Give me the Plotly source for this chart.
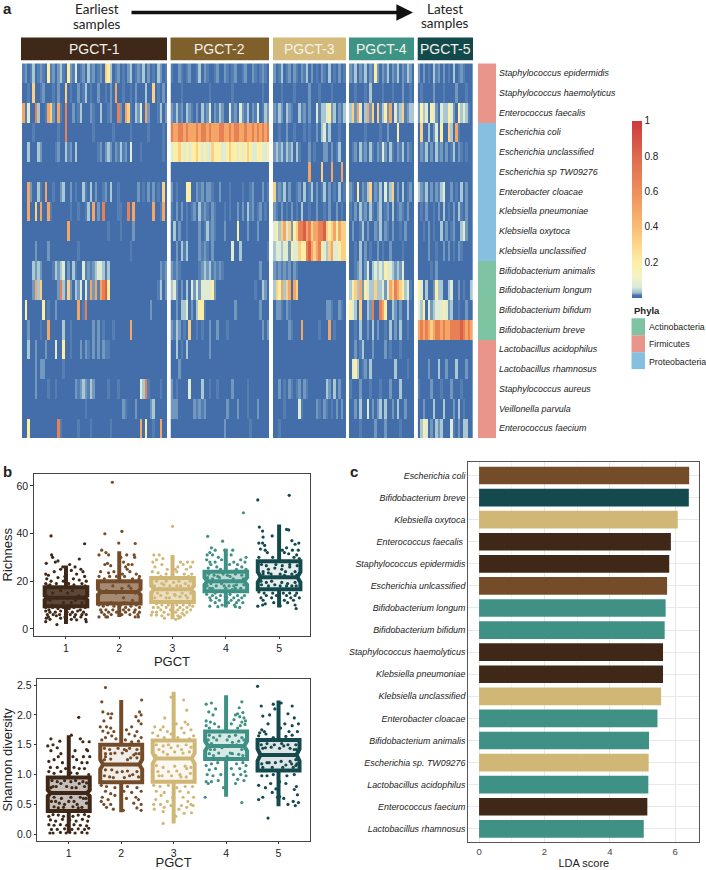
import plotly.graph_objects as go

W, H = 706, 870

# ---------------- heatmap data: one digit per sample column
SPECIES = ["Staphylococcus epidermidis", "Staphylococcus haemolyticus", "Enterococcus faecalis",
           "Escherichia coli", "Escherichia unclassified", "Escherichia sp TW09276",
           "Enterobacter cloacae", "Klebsiella pneumoniae", "Klebsiella oxytoca",
           "Klebsiella unclassified", "Bifidobacterium animalis", "Bifidobacterium longum",
           "Bifidobacterium bifidum", "Bifidobacterium breve", "Lactobacillus acidophilus",
           "Lactobacillus rhamnosus", "Staphylococcus aureus", "Veillonella parvula",
           "Enterococcus faecium"]
LEVELS = [0.005, 0.017, 0.022, 0.036, 0.075, 0.2, 0.33, 0.5, 0.68, 0.85]
GROUP_COLS = [58, 39, 29, 26, 22]
PGCT_1 = [
 "1201301210512023105214012031201206530120102301213020103201",
 "0010600120001020060100201301002001020700100102000300601020",
 "7140083001762071080020130002100300120082076103240720001302",
 "0000100000000010080000000000100000001000000100000010000010",
 "0030003200000120031203000000001202320213120400010000000010",
 "0000000000000000000000000000000000000000000000000000000000",
 "0072003107001002300201003103020012030010000000201020201060",
 "0070060700710000000100100130702080000011008070000000700170",
 "0000000000000000007000000000000000100001000020000000000000",
 "0000020000200000000000100000000000000000000100000000000000",
 "0000323200001323402031004121234431300000000000000000000212",
 "0000273600000028316203240417271789500000000000000000001302",
 "0500000050100200000000701800000000000000000000000002000000",
 "0020000100700000300100000000202010001000000700000000000000",
 "0030020002000400500100020210202021100000000000000000000000",
 "0000020220000000100000000000000000000000000000000000000000",
 "0000020000100100000002123213200000100010000000043810000100",
 "0000000000000000000000000100000000000000210002000002300000",
 "0050000000000081000000100001000000010000000000070500100700",
]
PGCT_2 = [
 "100210120013021001200210120012002101210",
 "000010000000000100000000100000000000100",
 "213120321020312402132004120421302140132",
 "877887877787887877788778788778778787878",
 "455654545565454465554456554545654455445",
 "000000000000000000000000000000000000000",
 "201000550021202210020001000010012000201",
 "102020101203121021000101002020312012010",
 "030200100002013121000200005000200020000",
 "002031300002121020000000400300000000001",
 "212100000001232312121000000000000002000",
 "342020304242444452000000000000000100320",
 "002033402035510000000000020000000002000",
 "213201060010100200200010000000000000202",
 "003010300000000200000000000000000000000",
 "000200000000000000000000000000000000000",
 "201000040000300100100000200000100000000",
 "222000000212120000000020002000100020000",
 "000000000000000000000200000000010000000",
]
PGCT_3 = [
 "20130120210213020102103010201",
 "00010000100000200010000100000",
 "21320321003120200413345230213",
 "00100200100010100203413000100",
 "23231323031000201000220201300",
 "00000000000000700006000700070",
 "61213020012030130201302010301",
 "21020102010300100200102002010",
 "45367462568897867788965675766",
 "34434425446558976785436744566",
 "21212120210000000000000000000",
 "36573670760000000000000000000",
 "02210210000000000000022100210",
 "00000021000700000010007010000",
 "00000000000000000000000000000",
 "00000000000000000000000000000",
 "00201021012021000000032030200",
 "00001000004100000210210102020",
 "00100000000000000000000000000",
]
PGCT_4 = [
 "21302130215202130213021320",
 "00100010300001000100020010",
 "36274037260613527042361233",
 "00000010000010020005000000",
 "01203120310214203102130210",
 "00000000000000000000000000",
 "21050213602130413602030120",
 "10203120310230120301210200",
 "02001302002130210200102000",
 "00103020100201002000010000",
 "00123024034343544323240000",
 "35637254336334247687653410",
 "54306003280087500320200300",
 "00103002030200103020300100",
 "00201300020000201000100000",
 "04530120300000000030000100",
 "10002000100010002000300000",
 "00203004020230300203002000",
 "00001000002000200000100000",
]
PGCT_5 = [
 "2020103120201030121000",
 "0100002000100002000100",
 "2534054204335420534310",
 "0600302405006307100000",
 "0213020312020130210100",
 "0000000000000000000000",
 "3213020213400201030200",
 "0102001020301020310200",
 "0010201003020120034200",
 "0000200100202010210000",
 "0000010200000000000000",
 "5403002533003400201003",
 "4350423444542300100200",
 "7878767887877888898787",
 "0000000000000000000000",
 "0000200030020003000200",
 "1000020001000200010000",
 "0020003000300020301000",
 "0354020323000410203300",
]
GROUP_ROWS = [PGCT_1, PGCT_2, PGCT_3, PGCT_4, PGCT_5]
GROUP_NAMES = ["PGCT-1", "PGCT-2", "PGCT-3", "PGCT-4", "PGCT-5"]
PHYLA_NAMES = ["Actinobacteria", "Firmicutes", "Proteobacteria"]
ROW_PHYLUM = [1, 1, 1, 2, 2, 2, 2, 2, 2, 2, 0, 0, 0, 0, 1, 1, 1, 1, 1]
CBAR_TICKS = [0.2, 0.4, 0.6, 0.8, 1]

# ---------------- panel b data
BOX_POS = [1, 2, 3, 4, 5]
RICH_Q1 = [9.5, 10.6, 11.3, 15.8, 16.6]
RICH_MED = [13, 15.5, 16.6, 20, 21.7]
RICH_Q3 = [17.5, 20, 21.3, 24, 28.4]
RICH_LO = [2, 5, 4, 9, 9]
RICH_HI = [26.6, 32.6, 31, 33.6, 43.8]
RICH_NOTCH = [0.9, 1.2, 1.4, 1.5, 2.2]
SHAN_Q1 = [0.39, 0.87, 0.88, 1.26, 1.07]
SHAN_MED = [0.69, 1.17, 1.27, 1.48, 1.33]
SHAN_Q3 = [0.95, 1.5, 1.57, 1.72, 1.58]
SHAN_LO = [0.02, 0.37, 0.18, 0.63, 0.47]
SHAN_HI = [1.66, 2.25, 2.39, 2.33, 2.24]
SHAN_NOTCH = [0.05, 0.08, 0.09, 0.08, 0.1]

# (horizontal jitter, value)
RICH_1 = [(-.28,39),(.35,35.7),(-.27,31),(-.25,30),(-.37,27.5),(-.2,28),(-.15,28.5),(.25,29.3),(.07,27),(-.06,26),(.17,26),(.28,25),(.32,24),
 (-.38,23),(-.33,22.5),(-.22,24),(-.1,25),(.1,24.5),(.2,23),(.35,22),(-.36,21),(-.28,20),(-.15,21.5),(-.02,22),(.14,21),(.25,20.5),(.38,20),
 (-.38,19),(-.3,18.5),(-.18,19),(-.05,20),(.05,19),(.15,18.5),(.3,19),(-.34,18),(.36,18),(-.25,15),(-.1,16),(.03,15),(.12,16),(.24,14),
 (-.16,13),(.05,13),(.18,12),(-.3,12),(-.05,11),(.1,11),(.3,11),(-.38,9),(-.32,8),(-.25,9),(-.15,8.5),(-.05,9),(.06,8.5),(.15,9),(.27,8),(.36,9),
 (-.38,7.5),(-.3,7),(-.2,7),(-.1,7.5),(.02,7),(.12,7),(.22,7.5),(.33,7),(-.35,6),(-.24,6),(-.12,6),(.08,6),(.18,6),(.3,6),(.38,6),(-.33,5),
 (-.18,5.5),(-.02,5),(.16,5),(.28,5),(-.37,4.5),(-.3,4),(-.1,4.5),(.37,4),(-.38,3),(.38,3),(-.17,1.8),(.1,4),(.2,3.8),(-.27,10),(.34,13),(-.37,14)]
RICH_2 = [(-.13,61.5),(-.27,39.9),(.05,40.9),(.3,35.8),(-.01,36),(-.33,33),(-.38,31),(-.25,32),(-.2,31),(.14,31),(.28,31),(.29,30),(.03,30),
 (-.27,27),(-.16,26.5),(-.22,27.5),(.08,28),(.17,27),(.12,26),(.24,27),(-.35,24),(-.1,24),(.06,23),(.2,24),(.32,23),(.38,22),(-.38,22),(-.28,21),
 (-.18,22),(-.05,22),(.1,22),(.25,21),(.37,21),(-.2,23.5),(.15,25),(-.12,18),(.05,17),(.18,18),(-.24,16),(.08,13),(-.06,15),(.22,17),(.3,15),
 (-.15,11),(.1,11),(.25,12),(-.38,10),(-.3,9.5),(-.22,10),(-.1,9.5),(.03,10),(.12,9),(.22,9.5),(.32,10),(.38,9),(-.35,8),(-.25,8),(-.12,8),(.08,8),
 (.18,8),(.3,8),(.38,7),(-.33,7),(-.2,7),(-.05,7),(.12,7),(.28,7),(-.28,6),(-.15,6),(.05,6),(.2,6),(.35,6),(-.38,5),(-.25,5),(-.22,5),(.3,5),(.36,5)]
RICH_3 = [(0,43),(-.35,31),(-.25,31),(-.3,29),(-.37,28),(-.18,29.5),(.15,28),(.38,28),(.1,26),(.2,27),(.28,28),(-.2,27),(-.33,26),(.05,25),(-.1,25),
 (.26,25),(.34,26),(-.38,24),(-.27,23.5),(-.12,23),(.08,24),(.22,23),(.36,23),(-.22,22),(.3,22),(-.05,18),(.15,18),(-.25,17),(.05,14),(-.12,13),(.25,14),
 (-.3,10.5),(-.2,10),(-.08,10),(.08,10),(.2,10),(.32,10),(.38,9.5),(-.36,9),(-.27,9),(-.12,9),(.14,9),(.27,9),(-.22,8),(-.04,8),(.1,8),(.2,8),(.34,8),
 (-.38,7),(-.3,7),(-.16,7),(.06,7),(.18,6.5),(.27,7),(-.4,5.8),(-.3,5.8),(-.2,5.5),(-.08,6),(.1,5.5),(.22,5.8),(.12,4.5),(-.15,4.5),(.06,4),(.15,5),
 (-.3,20),(-.2,19),(-.12,20),(.02,19.5),(.12,20),(.24,19),(.33,20),(-.34,18),(-.16,18.5),(.08,18),(.3,18),(-.28,15),(-.1,15),(.18,15),(.34,15),(-.22,14),(.04,14.5),(.14,13.5),(.28,13),(-.33,13),(-.06,13)]
RICH_4 = [(.33,48.7),(-.34,38.8),(-.06,36.8),(-.27,34),(-.2,33),(-.3,32),(-.02,33),(.13,33),(-.35,31),(-.25,31),(-.14,30),(.1,31),(.38,30),(.28,29),
 (-.3,28),(-.36,29),(-.2,28),(-.08,29),(.15,28),(.22,27),(.36,28),(-.28,27),(-.17,26),(.07,27),(.3,26),(-.33,25.5),(-.1,25),(.2,25),(.38,25),
 (-.15,22),(.08,22),(-.25,21),(.25,20),(-.03,18),(.15,18),(-.3,17),(.12,16.5),(-.2,15),(-.36,14.5),(-.25,14),(-.1,14),(.08,14.5),(.22,14),(.35,14),
 (-.3,13),(-.18,13),(.02,13),(.15,13),(.3,13),(-.28,12),(-.12,12),(.1,12),(.24,12),(-.2,11),(.05,11),(.2,11),(.32,11),(-.07,10),(.16,10),(-.3,9.5),(-.15,9.3),(.18,9.3),(.26,9),
 (-.32,23),(-.22,22.5),(-.05,23),(.03,22.5),(.18,23),(.3,22.5),(-.34,21.5),(-.12,21.5),(.14,21),(.33,21),(-.28,19),(-.08,19),(.2,18.5),(.34,18.5),(-.35,18),(-.18,18),(.06,18),(.28,17),(-.25,17),(.0,17),(.18,17)]
RICH_5 = [(-.4,54.1),(.19,56),(-.37,42.7),(.14,41.7),(.18,41.5),(-.31,41),(-.3,38.5),(.0,37),(.24,37),(-.13,39),(-.38,36),(-.31,36),(-.27,35),(.3,35.5),(.37,36),
 (-.35,33.5),(-.26,33),(.06,33),(.14,34),(.25,33),(.36,33),(-.22,32),(.1,32),(.18,31.5),(.33,31),(-.38,30),(-.12,30),(.28,30),(.38,29.5),(-.2,25),(.05,25),
 (.2,26),(-.08,25.5),(-.3,24),(.12,24),(.3,24),(-.15,23),(.24,18),(-.2,18),(.02,18),(-.28,15),(-.38,15.5),(-.12,15),(.08,15),(.2,15),(.33,15),(-.24,14),
 (-.05,14),(.14,14),(.3,14),(-.34,13),(-.14,13),(.22,13),(.38,13),(-.3,12),(.1,12),(.27,12),(-.26,10.5),(-.1,11),(.16,11),(.3,10),(-.4,9.5),(-.31,10),(.02,9.7),(.32,8.5),
 (-.33,27),(-.24,26.5),(-.06,27),(.06,26.5),(.2,27),(.34,26.5),(-.3,23),(-.2,23.5),(.02,23),(.1,22.5),(.24,23),(.33,22.5),(-.34,20),(-.24,19.5),(-.14,20),(.05,19.5),(.16,19),(.3,19.5),(-.33,18.5),(-.08,18.5),(.14,18),(.32,18)]
SHAN_1 = [(.19,1.96),(-.34,1.6),(-.17,1.56),(.05,1.66),(.22,1.6),(.39,1.55),(-.4,1.48),(-.3,1.5),(-.22,1.45),(.27,1.55),(.34,1.42),(-.34,1.4),(-.15,1.35),
 (.12,1.4),(.36,1.4),(-.2,1.3),(.08,1.3),(.28,1.3),(.4,1.3),(-.38,1.22),(-.28,1.25),(-.12,1.2),(.15,1.25),(.25,1.2),(.35,1.2),(-.35,1.12),(-.22,1.12),(-.06,1.1),(.1,1.12),
 (.2,1.1),(.3,1.1),(-.38,1.05),(-.28,1.02),(-.15,1.05),(.04,1.03),(.16,1.02),(.38,1.0),(-.3,.8),(-.15,.85),(.06,.78),(.2,.85),(-.25,.55),(-.08,.5),(.1,.55),(.28,.6),
 (-.38,.3),(-.3,.33),(-.2,.32),(-.1,.3),(.08,.3),(.18,.32),(.3,.33),(.38,.3),(-.35,.24),(-.25,.22),(-.12,.25),(.02,.24),(.14,.22),(.26,.25),(.36,.22),(-.38,.16),
 (-.28,.15),(-.16,.16),(-.04,.15),(.1,.16),(.22,.15),(.34,.14),(-.33,.08),(-.22,.08),(-.08,.09),(.06,.08),(.18,.09),(.3,.08),(.38,.1),(-.36,.02),(-.3,.02),(-.16,.03),
 (-.05,.02),(.02,.03),(.12,.02),(.25,.03),(.35,.02),
 (-.32,.9),(-.22,.88),(-.08,.9),(.04,.88),(.13,.9),(.27,.88),(.34,.86),(-.34,.78),(-.24,.8),(-.04,.8),(.14,.78),(.3,.8),(-.28,.62),(-.14,.6),(.04,.62),(.22,.62),(.33,.6),
 (-.33,.55),(-.18,.52),(.0,.55),(.16,.5),(.34,.52),(-.28,.46),(-.1,.45),(.08,.46),(.25,.45),(-.2,.44),(.18,.44)]
SHAN_2 = [(-.3,2.46),(-.37,2.22),(.39,2.25),(-.35,2.05),(-.25,2.02),(-.18,2.02),(.35,2.05),(.38,2.0),(.28,1.97),(-.33,1.9),(-.2,1.95),(.33,1.9),(.38,1.85),
 (-.4,1.8),(-.28,1.8),(-.2,1.78),(.2,1.8),(-.35,1.73),(-.25,1.7),(-.14,1.72),(.1,1.75),(.3,1.72),(-.3,1.62),(-.18,1.65),(.15,1.68),(.26,1.65),(.38,1.62),(-.37,1.58),(-.1,1.6),
 (.08,1.58),(.2,1.55),(.33,1.56),(-.2,1.35),(.1,1.4),(.28,1.35),(-.3,1.3),(.18,1.28),(.02,1.05),(.22,1.0),(-.15,.95),(-.38,.82),(-.28,.8),(-.12,.78),(.12,.8),(.3,.78),
 (-.3,.72),(-.2,.68),(.05,.72),(.2,.7),(.38,.72),(-.36,.62),(-.12,.65),(.28,.62),(-.25,.58),(.1,.6),(.33,.58),(-.38,.55),(-.2,.5),(-.33,.5),(.24,.52),(.38,.5),(-.28,.45),(.3,.44),(.04,.4),(.38,.4),(-.15,.42),
 (-.32,1.44),(-.22,1.42),(-.06,1.44),(.06,1.42),(.16,1.44),(.3,1.42),(-.3,1.35),(-.12,1.36),(.02,1.36),(.24,1.33),(.34,1.35),(-.32,1.25),(-.2,1.26),(.12,1.25),(.3,1.28),(-.3,1.08),(-.18,1.08),(-.08,1.04),(.12,1.06),(.3,1.05),(-.32,.98),(-.22,.96),(.06,.95),(.16,.98),(.33,.96)]
SHAN_3 = [(.19,2.25),(-.05,2.3),(.25,2.08),(.22,1.88),(.27,1.84),(-.17,1.95),(-.2,1.8),(.05,1.85),(-.36,1.8),(-.25,1.75),(.15,1.78),(-.12,1.72),(.33,1.75),(-.4,1.7),(-.05,1.68),
 (.2,1.7),(-.3,1.65),(.08,1.62),(.38,1.65),(-.18,1.62),(.3,1.6),(-.05,1.45),(.15,1.42),(-.2,1.38),(.25,1.1),(-.1,1.05),(.12,1.0),(-.28,.98),(-.38,.82),(-.26,.8),(-.1,.82),
 (.06,.78),(.22,.8),(.36,.8),(-.33,.72),(-.18,.7),(.12,.72),(.28,.7),(-.24,.65),(-.02,.62),(.18,.62),(.38,.62),(-.34,.58),(-.12,.55),(.27,.55),(-.38,.5),(-.25,.5),(-.05,.48),
 (.15,.48),(.33,.5),(-.37,.42),(-.18,.45),(.1,.42),(.25,.45),(.37,.48),(.34,.36),(-.2,.38),(-.2,.18),(.04,.3),(.2,.35),
 (-.33,1.5),(-.2,1.48),(-.1,1.5),(.08,1.48),(.24,1.5),(.33,1.46),(-.28,1.42),(.02,1.38),(.3,1.38),(-.34,1.32),(-.12,1.34),(.18,1.36),(.33,1.12),(-.33,1.15),(-.2,1.12),(.02,1.14),(.22,1.14),(-.3,1.05),(.06,1.06),(.32,1.02),(-.22,.98),(.24,.96),(-.04,.98),(.14,.96)]
SHAN_4 = [(-.38,2.18),(-.28,2.2),(-.2,2.1),(.3,2.22),(.25,2.12),(-.33,2.05),(.22,2.02),(.32,2.04),(-.25,2.0),(.18,2.0),(.26,1.97),(-.38,1.9),(-.3,1.88),(.15,1.92),(.34,1.95),(.37,1.9),(.3,1.88),
 (-.38,1.82),(-.22,1.85),(.1,1.85),(.27,1.82),(.36,1.84),(-.32,1.78),(-.14,1.8),(.22,1.78),(-.08,1.45),(.2,1.5),(-.22,1.42),(.12,1.35),(.02,1.3),(-.38,1.15),(-.28,1.18),(-.16,1.2),(.2,1.18),(.32,1.2),(.38,1.15),
 (-.32,1.08),(-.2,1.1),(.1,1.1),(.26,1.1),(.36,1.05),(-.36,1.0),(-.25,.98),(-.1,1.0),(.14,1.0),(.28,1.0),(.38,.98),(-.38,.88),(-.28,.88),(-.34,.85),(-.15,.9),(.22,.92),(.34,.9),(-.4,.62),(.3,.53),(-.05,.78),(.18,.85),
 (-.32,1.66),(-.24,1.62),(-.12,1.65),(.06,1.64),(.18,1.66),(.3,1.62),(-.34,1.58),(-.18,1.58),(.02,1.58),(.24,1.56),(.34,1.58),(-.28,1.52),(.12,1.54),(-.3,1.42),(.3,1.42),(-.32,1.35),(-.14,1.36),(.08,1.36),(.24,1.34),(-.24,1.32),(.32,1.32)]
SHAN_5 = [(-.4,2.48),(-.33,2.15),(-.1,2.18),(-.07,2.1),(.05,2.2),(.26,2.15),(-.3,1.98),(-.17,2.0),(.18,2.02),(.3,1.95),(-.2,1.85),(.12,1.85),(.26,1.82),(.38,1.85),(-.32,1.75),(-.27,1.72),(-.36,1.7),
 (.04,1.78),(.2,1.72),(.36,1.72),(-.38,1.65),(-.24,1.68),(-.1,1.62),(.14,1.64),(.26,1.66),(-.25,1.45),(.1,1.48),(.3,1.42),(-.18,1.2),(.05,1.22),(.25,1.18),(.33,1.15),(-.32,.98),(-.22,.98),(-.1,1.0),(.16,.98),(.3,1.0),
 (-.38,.82),(-.15,.85),(.02,.88),(.14,.85),(.34,.8),(-.25,.78),(-.05,.76),(.3,.75),(-.12,.7),(.36,.66),(-.3,.62),(.1,.6),(-.38,.58),(.28,.55),(.38,.53),(-.02,.62),(.02,.63),(.32,.48),(.18,.5),(-.2,.27),
 (-.33,1.5),(-.22,1.52),(-.08,1.5),(.06,1.52),(.18,1.5),(.33,1.5),(-.3,1.44),(-.14,1.46),(.02,1.44),(.22,1.44),(.34,1.42),(-.32,1.18),(-.22,1.2),(-.06,1.2),(.14,1.16),(.22,1.22),(.33,1.25),(-.3,1.12),(-.12,1.12),(.08,1.12),(.28,1.12),(.35,1.18)]

# ---------------- panel c data
LDA_SPECIES = ["Escherichia coli", "Bifidobacterium breve", "Klebsiella oxytoca", "Enterococcus faecalis ",
               "Staphylococcus epidermidis", "Escherichia unlcassified", "Bifidobacterium longum",
               "Bifidobacterium bifidum", "Staphylococcus haemolyticus", "Klebsiella pneumoniae",
               "Klebsiella unclassified", "Enterobacter cloacae", "Bifidobacterium animalis",
               "Escherichia sp. TW09276", "Lactobacillus acidophilus", "Enterococcus faecium",
               "Lactobacillus rhamnosus"]
LDA_SCORE = [6.43, 6.42, 6.08, 5.87, 5.82, 5.755, 5.71, 5.68, 5.63, 5.63, 5.57, 5.46, 5.20, 5.19, 5.18, 5.15, 5.04]
LDA_GROUP = [2, 5, 3, 1, 1, 2, 4, 4, 1, 1, 3, 4, 4, 3, 4, 1, 4]

# ---------------- style
C_PGCT = ["#3f2818", "#754c29", "#d1b776", "#3e9184", "#144a4e"]
C_HEAD = ["#3f2818", "#80602a", "#d4bb7c", "#3d9484", "#124a4c"]
C_PHYLA = ["#7fc4a2", "#e9958b", "#86c0e0"]
SCALE = [[0, "#3f6ba8"], [0.015, "#4a75ae"], [0.03, "#9fbfcf"], [0.06, "#d8ead8"], [0.12, "#f3f3c4"],
         [0.2, "#fdeea6"], [0.3, "#fcd78c"], [0.4, "#f9bd74"], [0.6, "#ee8f5a"], [0.8, "#de6a4f"], [1, "#cc3a3c"]]
SANS = "Liberation Sans, Arial, sans-serif"
def px(a, b): return [a / W, b / W]
def py(a, b): return [1 - b / H, 1 - a / H]
def rgba(h, a): return f"rgba({int(h[1:3],16)},{int(h[3:5],16)},{int(h[5:7],16)},{a})"

fig = go.Figure()
HEAT_TOP, HEAT_BOT = 63.5, 439
HEAT_X = [(22, 167), (170.5, 269), (273, 346), (349, 414), (417.7, 473)]
layout = dict(
    width=W, height=H, margin=dict(l=0, r=0, t=0, b=0), paper_bgcolor="white", plot_bgcolor="white",
    font=dict(family=SANS, color="#222"), showlegend=False,
)
hidden = dict(showticklabels=False, showgrid=False, zeroline=False, ticks="", showline=False)

for g, rows in enumerate(GROUP_ROWS):
    n = GROUP_COLS[g]
    z = [[LEVELS[int(c)] for c in r.ljust(n, "0")[:n]] for r in rows]
    key = f"xaxis{g+1}" if g else "xaxis"
    fig.add_trace(go.Heatmap(
        z=z, y=list(range(19)), xaxis=f"x{g+1}" if g else "x", yaxis="y",
        colorscale=SCALE, zmin=0, zmax=1, showscale=(g == 0),
        colorbar=dict(thickness=10, len=177 / H, lenmode="fraction", x=632 / W, xanchor="left",
                      y=1 - 121 / H, yanchor="top", ypad=0, xpad=0, outlinewidth=0,
                      tickvals=CBAR_TICKS, ticktext=[str(t) for t in CBAR_TICKS], ticks="",
                      tickfont=dict(size=10, family=SANS, color="#222")),
        hovertemplate=GROUP_NAMES[g] + "<extra></extra>"))
    layout[key] = dict(domain=px(*HEAT_X[g]), anchor="y", range=[-0.5, n - 0.5], **hidden)

# phyla side bar, whose axis carries the species labels
fig.add_trace(go.Heatmap(z=[[p] for p in ROW_PHYLUM], y=list(range(19)), xaxis="x6", yaxis="y",
                         colorscale=[[0, C_PHYLA[0]], [0.333, C_PHYLA[0]], [0.333, C_PHYLA[1]], [0.667, C_PHYLA[1]],
                                     [0.667, C_PHYLA[2]], [1, C_PHYLA[2]]],
                         zmin=0, zmax=2, showscale=False, hoverinfo="skip"))
layout["xaxis6"] = dict(domain=px(478, 496), anchor="y", range=[-0.5, 0.5], **hidden)
layout["yaxis"] = dict(domain=py(HEAT_TOP, HEAT_BOT), anchor="x6", side="right", range=[18.5, -0.5],
                       tickvals=list(range(19)), ticktext=[f"<i>{s}</i>" for s in SPECIES],
                       tickfont=dict(size=8.9, family=SANS, color="#222"), ticks="", ticklen=0, ticklabelstandoff=2,
                       showgrid=False, zeroline=False, showline=False, automargin=False)

# panel b
def panel_b(xa, ya, q1, med, q3, lo, hi, notch, clouds, fills):
    for i, pos in enumerate(BOX_POS):
        fig.add_trace(go.Box(x=[pos], q1=[q1[i]], median=[med[i]], q3=[q3[i]], lowerfence=[lo[i]], upperfence=[hi[i]],
                             notchspan=[notch[i]], notched=True, notchwidth=0.07, width=0.8, whiskerwidth=0,
                             line=dict(color=C_PGCT[i], width=4), fillcolor=rgba(C_PGCT[i], fills[i]),
                             boxpoints=False, xaxis=xa, yaxis=ya, hoverinfo="skip"))
        cloud = clouds[i]
        fig.add_trace(go.Scatter(x=[pos + d for d, _ in cloud], y=[v for _, v in cloud], mode="markers",
                                 marker=dict(size=3.2, color=C_PGCT[i]), xaxis=xa, yaxis=ya, hoverinfo="skip"))

panel_b("x7", "y2", RICH_Q1, RICH_MED, RICH_Q3, RICH_LO, RICH_HI, RICH_NOTCH,
        [RICH_1, RICH_2, RICH_3, RICH_4, RICH_5], [0.85, 0.65, 0.45, 0.35, 0.1])
panel_b("x8", "y3", SHAN_Q1, SHAN_MED, SHAN_Q3, SHAN_LO, SHAN_HI, SHAN_NOTCH,
        [SHAN_1, SHAN_2, SHAN_3, SHAN_4, SHAN_5], [0.3, 0.1, 0.1, 0.2, 0.15])

def axis_b(dom, rng, **kw):
    return dict(domain=dom, range=rng, showgrid=False, zeroline=False, showline=True, mirror=True,
                linecolor="#444", linewidth=1.4, ticks="outside", ticklen=2.5, tickwidth=1, tickcolor="#333",
                tickfont=dict(size=10.5, family=SANS, color="#222"), **kw)

layout["xaxis7"] = axis_b(px(34, 310), [0.4, 5.58], anchor="y2", tickvals=BOX_POS,
                          title=dict(text="PGCT", font=dict(size=13, color="#222"), standoff=1))
layout["yaxis2"] = axis_b(py(475, 637), [-2.8, 65], anchor="x7", tickvals=[0, 20, 40, 60],
                          title=dict(text="Richness", font=dict(size=13, color="#222"), standoff=2))
layout["xaxis8"] = axis_b(px(37.3, 310), [0.4, 5.6], anchor="y3", tickvals=BOX_POS,
                          title=dict(text="PGCT", font=dict(size=13, color="#222"), standoff=2))
layout["yaxis3"] = axis_b(py(680.7, 842.7), [-0.11, 2.6], anchor="x8", tickvals=[0, 0.5, 1, 1.5, 2, 2.5],
                          tickformat=".1f", title=dict(text="Shannon diversity", font=dict(size=13, color="#222"), standoff=1))

# panel c
fig.add_trace(go.Bar(x=LDA_SCORE, y=list(range(len(LDA_SCORE))), orientation="h", width=0.8,
                     marker=dict(color=[C_PGCT[g - 1] for g in LDA_GROUP], line=dict(width=0)),
                     xaxis="x9", yaxis="y4", hoverinfo="skip"))
layout["xaxis9"] = dict(domain=px(468.3, 699.3), range=[-0.33, 6.74], anchor="y4", tickvals=[0, 2, 4, 6],
                        showgrid=True, gridcolor="#e8e8e8", gridwidth=1, zeroline=False,
                        minor=dict(tickvals=[1, 3, 5], showgrid=True, gridcolor="#f2f2f2", gridwidth=1),
                        showline=True, mirror=True, linecolor="#555", linewidth=1.2, ticks="",
                        tickfont=dict(size=9.5, family=SANS, color="#444"),
                        title=dict(text="LDA score", font=dict(size=11, color="#222"), standoff=2))
layout["yaxis4"] = dict(domain=py(463.3, 844), range=[16.6, -0.6], anchor="x9",
                        tickvals=list(range(len(LDA_SPECIES))), ticktext=[f"<i>{s}</i>" for s in LDA_SPECIES],
                        tickfont=dict(size=8.9, family=SANS, color="#222"), ticks="", showgrid=True,
                        gridcolor="#e8e8e8", zeroline=False, showline=True, mirror=True, linecolor="#555", linewidth=1.2)

# headers, phyla key, notes
shapes, notes = [], []
def note(x, y, text, size=10, color="#222", family=SANS, anchor="left"):
    notes.append(dict(x=x / W, y=1 - y / H, xref="paper", yref="paper", text=text, showarrow=False, xanchor=anchor,
                      yanchor="middle", font=dict(size=size, color=color, family=family)))
HEAD_X = [(21, 167), (170.5, 269), (273, 346), (349, 414), (417.7, 473)]
for g, (a, b) in enumerate(HEAD_X):
    shapes.append(dict(type="rect", xref="paper", yref="paper", x0=a / W, x1=b / W, y0=1 - 60.5 / H, y1=1 - 37.5 / H,
                       fillcolor=C_HEAD[g], line=dict(width=0)))
    note((a + b) / 2, 49, GROUP_NAMES[g], size=14, color="#f4f1ea", anchor="center")
for i, name in enumerate(PHYLA_NAMES):
    shapes.append(dict(type="rect", xref="paper", yref="paper", x0=631.5 / W, x1=645 / W,
                       y0=1 - (319 + 17 * (i + 1)) / H, y1=1 - (319 + 17 * i) / H, fillcolor=C_PHYLA[i], line=dict(width=0)))
    note(646.5, 328 + 17.2 * i, name, size=8.8)
note(631.5, 311.5, "<b>Phyla</b>", size=9.5)
note(97, 9, "Earliest", size=13.5, family="Lato", anchor="center")
note(97, 24, "samples", size=13.5, family="Lato", anchor="center")
note(445, 9, "Latest", size=13.5, family="Lato", anchor="center")
note(445, 23.5, "samples", size=13.5, family="Lato", anchor="center")
note(1, 9, "<b>a</b>", size=15)
note(1, 473, "<b>b</b>", size=15)
note(348, 473, "<b>c</b>", size=15)
notes.append(dict(x=413 / W, y=1 - 12.5 / H, xref="paper", yref="paper", text="", showarrow=True, ax=-283, ay=0,
                  arrowhead=2, arrowsize=0.95, arrowwidth=3.5, arrowcolor="#111"))
layout["shapes"] = shapes
layout["annotations"] = notes
fig.update_layout(**layout)
fig.write_html("out.html", config=dict(displayModeBar=False),
               post_script="document.body.style.margin='0';document.documentElement.style.overflow='hidden';")
